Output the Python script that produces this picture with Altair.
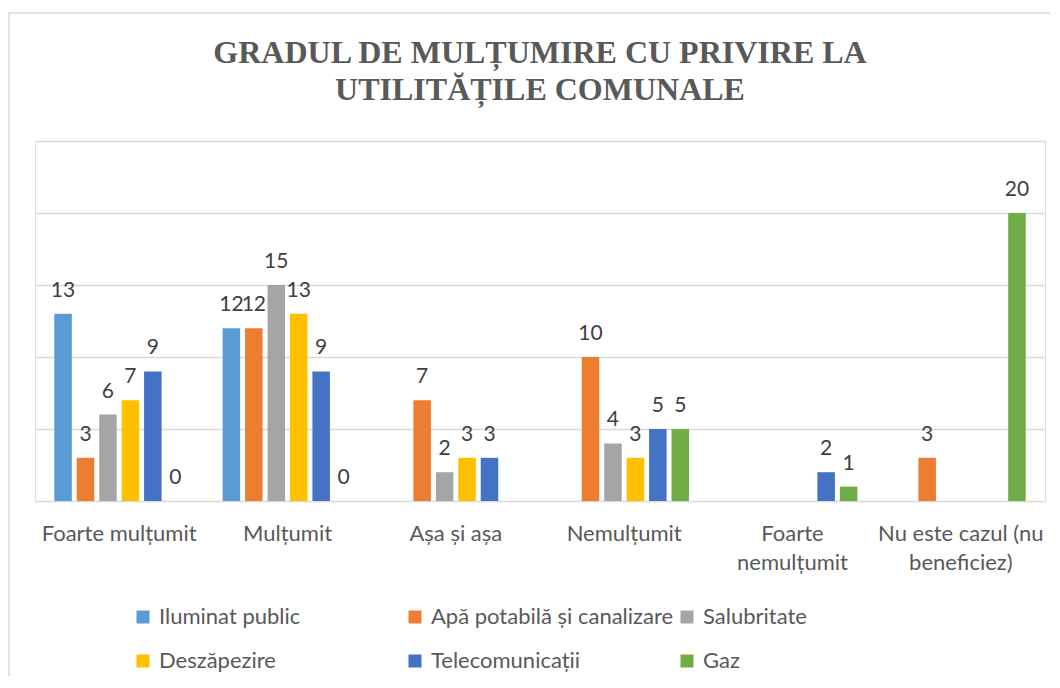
import altair as alt
import pandas as pd

categories = ["Foarte mulțumit", "Mulțumit", "Așa și așa", "Nemulțumit",
              "Foarte nemulțumit", "Nu este cazul (nu beneficiez)"]
series = ["Iluminat public", "Apă potabilă și canalizare", "Salubritate",
          "Deszăpezire", "Telecomunicații", "Gaz"]
iluminat = [13, 12, None, None, None, None]
apa = [3, 12, 7, 10, None, 3]
salubritate = [6, 15, 2, 4, None, None]
deszapezire = [7, 13, 3, 3, None, None]
telecom = [9, 9, 3, 5, 2, None]
gaz = [0, 0, None, 5, 1, 20]
colors = ["#5B9BD5", "#ED7D31", "#A5A5A5", "#FFC000", "#4472C4", "#70AD47"]
grid_values = [0, 5, 10, 15, 20, 25]

rows = []
for s, vals in zip(series, [iluminat, apa, salubritate, deszapezire, telecom, gaz]):
    for c, v in zip(categories, vals):
        if v is not None:
            rows.append({"cat": c, "series": s, "value": v})
df = pd.DataFrame(rows)

label_expr = ("datum.label == 'Foarte nemulțumit' ? ['Foarte', 'nemulțumit'] : "
              "datum.label == 'Nu este cazul (nu beneficiez)' ? ['Nu este cazul (nu', 'beneficiez)'] : "
              "datum.label")

x_enc = alt.X("cat:N", sort=categories,
              scale=alt.Scale(domain=categories, paddingInner=0.2, paddingOuter=0.1),
              axis=alt.Axis(title=None, domain=False, ticks=False, labelAngle=0,
                            labelFont="Lato", labelFontSize=22, labelColor="#595959",
                            labelPadding=22, labelLineHeight=29, labelLimit=400,
                            labelOverlap=False, labelExpr=label_expr, labelBaseline="top"))
xo_enc = alt.XOffset("series:N", sort=series,
                     scale=alt.Scale(domain=series, paddingInner=0.22, paddingOuter=0.11))
y_enc = alt.Y("value:Q", scale=alt.Scale(domain=[0, 25], nice=False),
              axis=alt.Axis(title=None, labels=False, ticks=False, domain=False,
                            values=grid_values, gridColor="#D9D9D9", gridWidth=1.5))

base = alt.Chart(df)

bars = base.mark_bar().encode(
    x=x_enc, xOffset=xo_enc, y=y_enc,
    color=alt.Color("series:N", sort=series,
                    scale=alt.Scale(domain=series, range=colors),
                    legend=alt.Legend(title=None, orient="none", legendX=97, legendY=465,
                                      direction="horizontal",
                                      columns=3, gridAlign="all", symbolType="square",
                                      symbolSize=169, symbolStrokeWidth=0,
                                      labelFont="Lato", labelFontSize=22,
                                      labelColor="#595959", labelOffset=5,
                                      labelLimit=400, columnPadding=2, rowPadding=22)),
)

labels = base.mark_text(baseline="alphabetic", dy=-17, font="Lato", fontSize=21,
                        color="#404040").encode(
    x=x_enc, xOffset=xo_enc, y=y_enc, text="value:Q")

border = alt.Chart(alt.Data(values=[{}])).mark_rect(
    filled=False, stroke="#D9D9D9", strokeWidth=1.5).encode(
    x=alt.value(-26), x2=alt.value(1100), y=alt.value(-128), y2=alt.value(700))

chart = alt.layer(border, bars, labels).properties(
    width=1010, height=360,
    autosize=alt.AutoSizeParams(type="none"),
    padding={"left": 27, "top": 133, "right": 5, "bottom": 175},
    title=alt.TitleParams(text=["GRADUL DE MULȚUMIRE CU PRIVIRE LA", "UTILITĂȚILE COMUNALE"],
                          font="Liberation Serif", fontSize=32, fontWeight="bold",
                          color="#595959", anchor="middle", frame="group",
                          lineHeight=37, offset=34, dy=129),
).configure_view(stroke=None).configure(background="white")

chart.save("out.html", embed_options={"renderer": "svg", "actions": False})
